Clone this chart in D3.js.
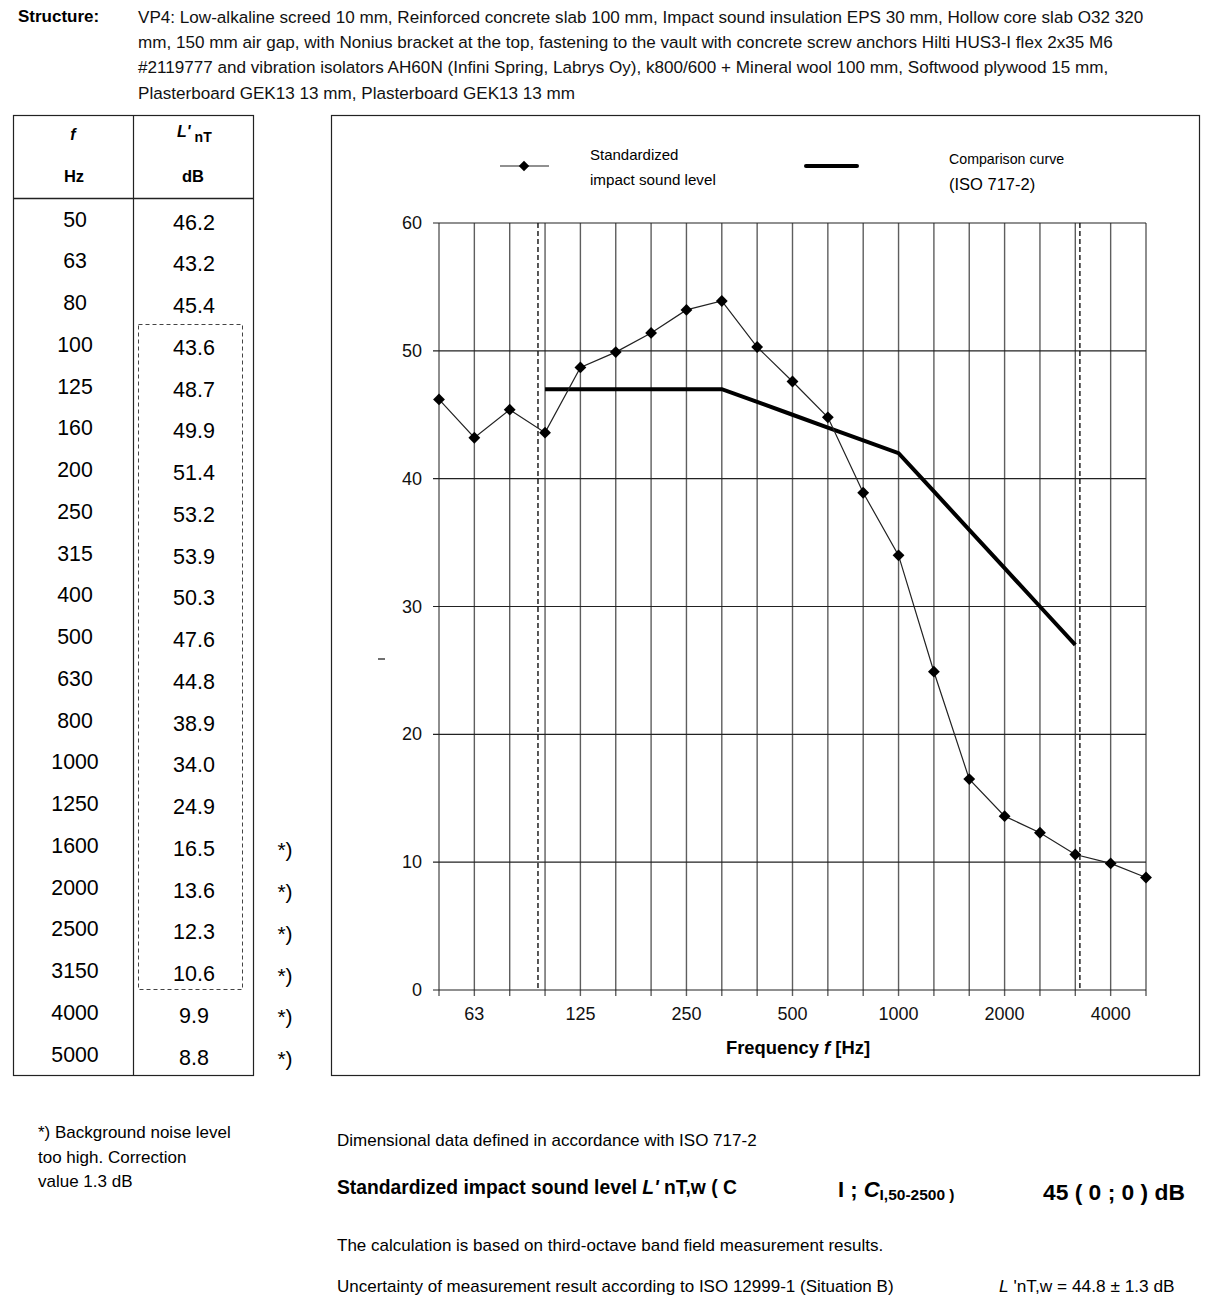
<!DOCTYPE html>
<html><head><meta charset="utf-8">
<script src="https://cdn.jsdelivr.net/npm/d3@7"></script>
<style>
html,body{margin:0;padding:0;background:#fff;}
svg{display:block;font-family:"Liberation Sans",Arial,sans-serif;}
</style></head>
<body>
<svg id="c" width="1212" height="1299"></svg>
<script>
// ---------- data ----------
const freqs = [50,63,80,100,125,160,200,250,315,400,500,630,800,1000,1250,1600,2000,2500,3150,4000,5000];
const levels = [46.2,43.2,45.4,43.6,48.7,49.9,51.4,53.2,53.9,50.3,47.6,44.8,38.9,34.0,24.9,16.5,13.6,12.3,10.6,9.9,8.8];
const noiseFlag = [0,0,0,0,0,0,0,0,0,0,0,0,0,0,0,1,1,1,1,1,1];
const refFreqs = [100,125,160,200,250,315,400,500,630,800,1000,1250,1600,2000,2500,3150];
const refCurve = [47,47,47,47,47,47,46,45,44,43,42,39,36,33,30,27];
const xTickLabels = [63,125,250,500,1000,2000,4000];
const yTicks = [0,10,20,30,40,50,60];
const rangeMarks = [2.8,18.13]; // dashed band limits in band-index units

const structureLines = [
 "VP4: Low-alkaline screed 10 mm, Reinforced concrete slab 100 mm, Impact sound insulation EPS 30 mm, Hollow core slab O32 320",
 "mm, 150 mm air gap, with Nonius bracket at the top, fastening to the vault with concrete screw anchors Hilti HUS3-I flex 2x35 M6",
 "#2119777 and vibration isolators AH60N (Infini Spring, Labrys Oy), k800/600 + Mineral wool 100 mm, Softwood plywood 15 mm,",
 "Plasterboard GEK13 13 mm, Plasterboard GEK13 13 mm"
];
const noteLines = ["*) Background noise level","too high. Correction","value 1.3 dB"];

// ---------- setup ----------
const svg = d3.select("#c");
const idx = f => freqs.indexOf(f);
const x = d3.scaleLinear().domain([0, freqs.length-1]).range([439,1146]);
const y = d3.scaleLinear().domain([0,60]).range([990,223]);

// ---------- header ----------
svg.append("text").attr("x",18).attr("y",22).attr("font-size",17).attr("font-weight","bold").text("Structure:");
svg.append("g").selectAll("text").data(structureLines).join("text")
  .attr("x",138).attr("y",(d,i)=>23+i*25.2).attr("font-size",17.1).attr("fill","#111").text(d=>d);

// ---------- table ----------
const tbl = svg.append("g");
tbl.append("rect").attr("x",13.5).attr("y",115.5).attr("width",240).attr("height",960).attr("fill","none").attr("stroke","#222").attr("stroke-width",1.2);
tbl.append("line").attr("x1",133.5).attr("x2",133.5).attr("y1",115.5).attr("y2",1075.5).attr("stroke","#222").attr("stroke-width",1.2);
tbl.append("line").attr("x1",13.5).attr("x2",253.5).attr("y1",198.5).attr("y2",198.5).attr("stroke","#222").attr("stroke-width",1.5);
tbl.append("text").attr("x",73).attr("y",140).attr("text-anchor","middle").attr("font-size",16).attr("font-weight","bold").attr("font-style","italic").text("f");
tbl.append("text").attr("x",74).attr("y",182).attr("text-anchor","middle").attr("font-size",16.5).attr("font-weight","bold").text("Hz");
const lh = tbl.append("text").attr("x",177).attr("y",137).attr("font-size",16).attr("font-weight","bold");
lh.append("tspan").attr("font-style","italic").text("L'");
lh.append("tspan").attr("dx",4).attr("dy",5).attr("font-size",14).text("nT");
tbl.append("text").attr("x",193).attr("y",182).attr("text-anchor","middle").attr("font-size",16.5).attr("font-weight","bold").text("dB");
const rowY = i => 219 + i*41.75;
tbl.selectAll(".fr").data(freqs).join("text").attr("class","fr")
  .attr("x",75).attr("y",(d,i)=>rowY(i)+7.5).attr("text-anchor","middle").attr("font-size",21.3).text(d=>d);
tbl.selectAll(".lv").data(levels).join("text").attr("class","lv")
  .attr("x",194).attr("y",(d,i)=>rowY(i)+10.5).attr("text-anchor","middle").attr("font-size",21.5).text(d=>d.toFixed(1));
tbl.selectAll(".nf").data(freqs.map((f,i)=>({i,flag:noiseFlag[i]})).filter(d=>d.flag)).join("text").attr("class","nf")
  .attr("x",285).attr("y",d=>rowY(d.i)+12).attr("text-anchor","middle").attr("font-size",21).text("*)");
tbl.append("rect").attr("x",138.5).attr("y",324.5).attr("width",104).attr("height",665)
  .attr("fill","none").attr("stroke","#444").attr("stroke-width",1).attr("stroke-dasharray","4,3");

// ---------- chart frame ----------
svg.append("rect").attr("x",331.5).attr("y",115.5).attr("width",868).attr("height",960).attr("fill","none").attr("stroke","#222").attr("stroke-width",1.2);

// grid: vertical
const g = svg.append("g");
g.selectAll(".vg").data(freqs.map((f,i)=>i)).join("line").attr("class","vg")
  .attr("x1",d=>x(d)).attr("x2",d=>x(d)).attr("y1",y(60)).attr("y2",y(0)+6)
  .attr("stroke","#5e5e5e").attr("stroke-width",1.4);
// horizontal
g.selectAll(".hg").data(yTicks).join("line").attr("class","hg")
  .attr("x1",x(0)-6).attr("x2",x(freqs.length-1)).attr("y1",d=>y(d)).attr("y2",d=>y(d))
  .attr("stroke","#222").attr("stroke-width",1.2);
g.selectAll(".yl").data(yTicks).join("text").attr("class","yl")
  .attr("x",422).attr("y",d=>y(d)+6).attr("text-anchor","end").attr("font-size",18).attr("fill","#111").text(d=>d);
g.selectAll(".xl").data(xTickLabels).join("text").attr("class","xl")
  .attr("x",d=>x(idx(d))).attr("y",1020).attr("text-anchor","middle").attr("font-size",18).attr("fill","#111").text(d=>d);
// dashed limits
g.selectAll(".dl").data(rangeMarks).join("line").attr("class","dl")
  .attr("x1",d=>x(d)).attr("x2",d=>x(d)).attr("y1",y(60)).attr("y2",y(0))
  .attr("stroke","#111").attr("stroke-width",1.4).attr("stroke-dasharray","5,3");
// axis title
const at = svg.append("text").attr("x",798).attr("y",1054).attr("text-anchor","middle").attr("font-size",18.4).attr("font-weight","bold");
at.append("tspan").text("Frequency ");
at.append("tspan").attr("font-style","italic").text("f");
at.append("tspan").text(" [Hz]");
// stray dash
svg.append("line").attr("x1",378).attr("x2",385).attr("y1",659).attr("y2",659).attr("stroke","#222").attr("stroke-width",1.3);

// reference curve
svg.append("path").datum(refFreqs.map((f,i)=>[idx(f),refCurve[i]]))
  .attr("d",d3.line().x(d=>x(d[0])).y(d=>y(d[1])))
  .attr("fill","none").attr("stroke","#000").attr("stroke-width",4);
// measured line
svg.append("path").datum(levels.map((v,i)=>[i,v]))
  .attr("d",d3.line().x(d=>x(d[0])).y(d=>y(d[1])))
  .attr("fill","none").attr("stroke","#222").attr("stroke-width",1.2);
svg.selectAll(".pt").data(levels).join("path").attr("class","pt")
  .attr("d",d3.symbol().type(d3.symbolSquare).size(70))
  .attr("transform",(d,i)=>`translate(${x(i)},${y(d)}) rotate(45)`)
  .attr("fill","#000");

// legend
const lg = svg.append("g");
lg.append("line").attr("x1",500).attr("x2",549).attr("y1",166).attr("y2",166).attr("stroke","#222").attr("stroke-width",1.2);
lg.append("path").attr("d",d3.symbol().type(d3.symbolSquare).size(55)).attr("transform","translate(524,166) rotate(45)").attr("fill","#000");
lg.append("text").attr("x",590).attr("y",160).attr("font-size",15).text("Standardized");
lg.append("text").attr("x",590).attr("y",185).attr("font-size",15.2).text("impact sound level");
lg.append("line").attr("x1",806).attr("x2",857).attr("y1",166).attr("y2",166).attr("stroke","#000").attr("stroke-width",4).attr("stroke-linecap","round");
lg.append("text").attr("x",949).attr("y",164).attr("font-size",14.2).text("Comparison curve");
lg.append("text").attr("x",949).attr("y",190).attr("font-size",16.5).text("(ISO 717-2)");

// ---------- bottom ----------
svg.append("g").selectAll("text").data(noteLines).join("text")
  .attr("x",38).attr("y",(d,i)=>1138+i*24.5).attr("font-size",17).text(d=>d);
svg.append("text").attr("x",337).attr("y",1146).attr("font-size",17).text("Dimensional data defined in accordance with ISO 717-2");
const s1 = svg.append("text").attr("x",337).attr("y",1194).attr("font-size",19.3).attr("font-weight","bold");
s1.append("tspan").text("Standardized impact sound level ");
s1.append("tspan").attr("font-style","italic").text("L'");
s1.append("tspan").text(" nT,w ( C");
const s2 = svg.append("text").attr("x",838).attr("y",1197).attr("font-size",22).attr("font-weight","bold");
s2.append("tspan").text("I ; ");
s2.append("tspan").attr("font-style","italic").text("C");
s2.append("tspan").attr("font-size",15.5).attr("dy",3).text("I,50-2500 )");
svg.append("text").attr("x",1043).attr("y",1200).attr("font-size",22.8).attr("font-weight","bold").text("45 ( 0 ; 0 ) dB");
svg.append("text").attr("x",337).attr("y",1251).attr("font-size",17).text("The calculation is based on third-octave band field measurement results.");
svg.append("text").attr("x",337).attr("y",1292).attr("font-size",17).text("Uncertainty of measurement result according to ISO 12999-1 (Situation B)");
const u = svg.append("text").attr("x",999).attr("y",1292).attr("font-size",17.3);
u.append("tspan").attr("font-style","italic").text("L");
u.append("tspan").text(" 'nT,w = 44.8 ± 1.3 dB");
</script>
</body></html>
